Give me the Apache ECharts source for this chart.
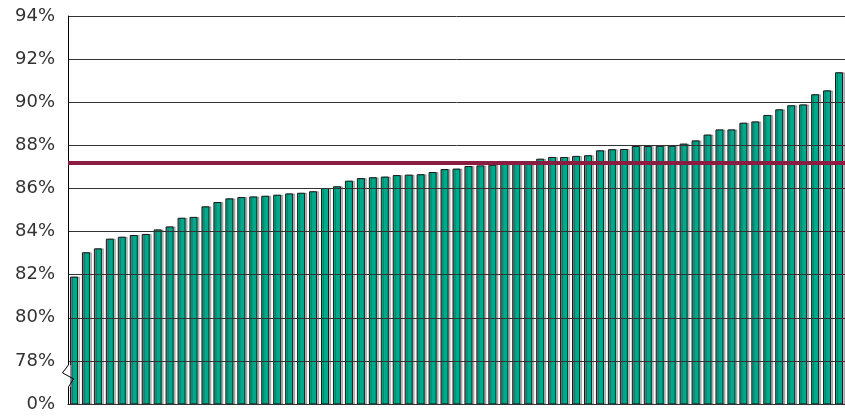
<!DOCTYPE html>
<html>
<head>
<meta charset="utf-8">
<script src="https://cdn.jsdelivr.net/npm/echarts@6/dist/echarts.min.js"></script>
<style>
html,body{margin:0;padding:0;background:#fff;}
#chart{width:845px;height:417px;}
</style>
</head>
<body>
<div id="chart"></div>
<script>
// Data (percent values, sorted ascending)
const values = [
  81.91, 83.04, 83.22, 83.67, 83.76, 83.84, 83.89, 84.10, 84.24, 84.64,
  84.68, 85.17, 85.37, 85.54, 85.60, 85.63, 85.66, 85.71, 85.77, 85.80,
  85.87, 86.02, 86.10, 86.36, 86.48, 86.52, 86.55, 86.62, 86.64, 86.66,
  86.76, 86.90, 86.92, 87.04, 87.07, 87.10, 87.26, 87.25, 87.27, 87.38,
  87.46, 87.46, 87.51, 87.54, 87.77, 87.82, 87.83, 87.97, 87.97, 87.98,
  87.98, 88.08, 88.23, 88.50, 88.74, 88.74, 89.05, 89.11, 89.41, 89.67,
  89.86, 89.90, 90.37, 90.55, 91.39
];
const categories = values.map((_, i) => String(i + 1));
const averageValue = 87.18;
const axisMin = 76;   // shown as "0%" (broken axis)
const axisMax = 94;
const axisStep = 2;

const chart = echarts.init(document.getElementById('chart'), null, {renderer: 'canvas'});
chart.setOption({
  animation: false,
  backgroundColor: '#ffffff',
  grid: {left: 68, top: 16, width: 780, height: 388, containLabel: false},
  xAxis: {
    type: 'category',
    data: categories,
    boundaryGap: true,
    axisLine: {show: true, lineStyle: {color: '#000', width: 1}},
    axisTick: {show: false},
    axisLabel: {show: false},
    splitLine: {show: false}
  },
  yAxis: {
    type: 'value',
    min: axisMin,
    max: axisMax,
    interval: axisStep,
    z: 5,
    axisLine: {show: true, lineStyle: {color: '#000', width: 1}},
    axisTick: {show: false},
    splitLine: {show: true, lineStyle: {color: '#333', width: 1}},
    axisLabel: {
      margin: 13,
      fontFamily: "'DejaVu Sans ExtraLight', 'DejaVu Sans'",
      fontSize: 18,
      color: '#333',
      formatter: v => (v === axisMin ? '0%' : v + '%')
    }
  },
  series: [{
    type: 'bar',
    data: values,
    barCategoryGap: '33%',
    itemStyle: {
      color: '#00A98B',
      borderColor: '#1a1a1a',
      borderWidth: 1,
      shadowColor: 'rgba(0,0,0,0.25)',
      shadowOffsetX: 2,
      shadowOffsetY: 0,
      shadowBlur: 0
    },
    markLine: {
      silent: true,
      symbol: 'none',
      z: 10,
      label: {show: false},
      lineStyle: {color: '#8C1D42', width: 4, type: 'solid'},
      data: [{yAxis: averageValue}]
    }
  }]
});

// Axis break decoration on the left axis
const ax = chart.convertToPixel({gridIndex: 0}, [0, 78]);
const x0 = 68.5;
const y78 = ax[1];
chart.setOption({
  graphic: [
    {type: 'rect', z: 100, shape: {x: x0 - 1, y: y78 + 4, width: 3, height: 22}, style: {fill: '#fff'}},
    {type: 'polyline', z: 101,
      shape: {points: [[x0, y78 + 4], [x0 - 6, y78 + 12], [x0 + 5, y78 + 18], [x0, y78 + 26]]},
      style: {stroke: '#000', lineWidth: 1, fill: null}}
  ]
});
</script>
</body>
</html>
